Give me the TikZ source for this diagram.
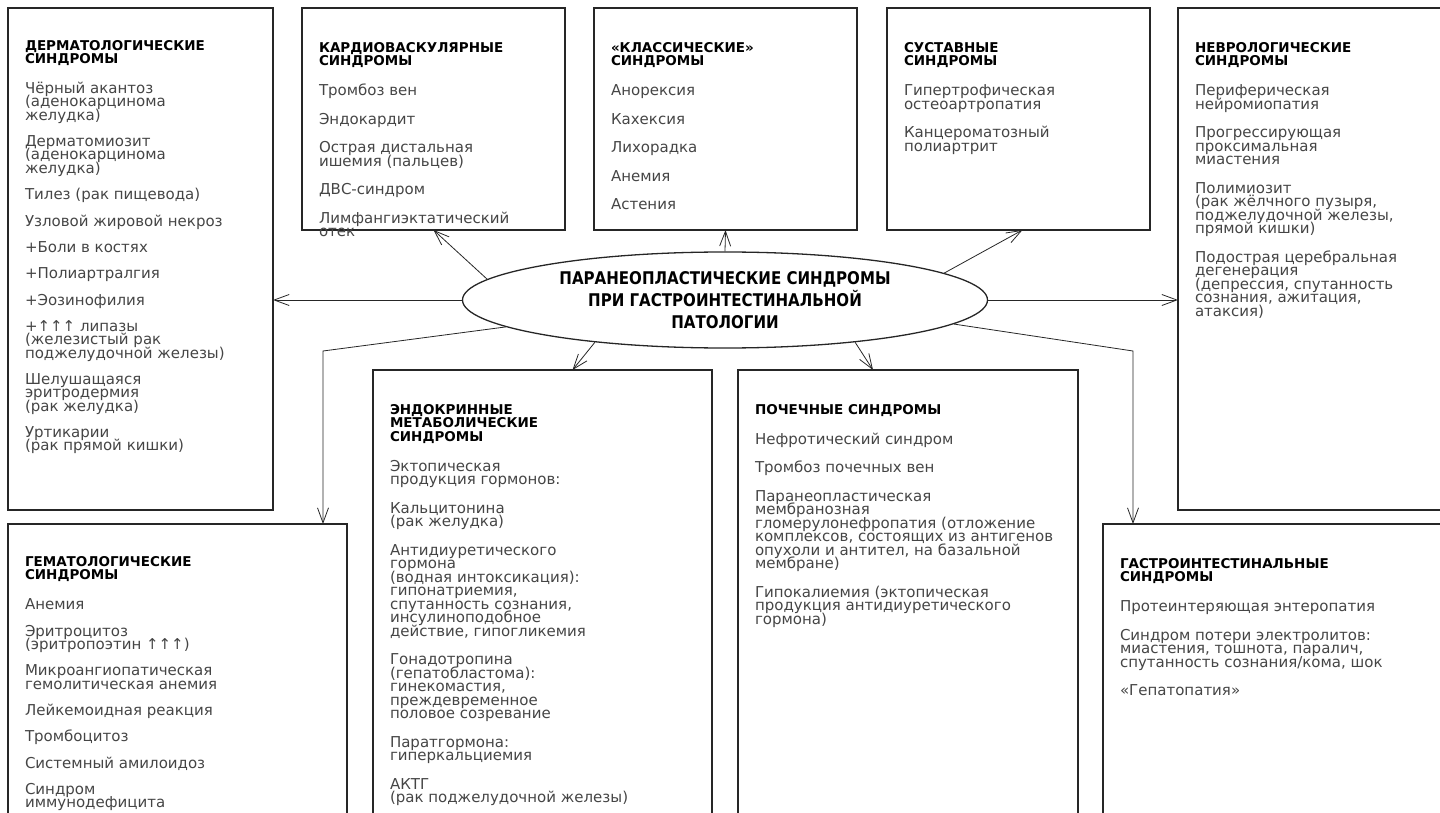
\documentclass[tikz,border=0pt]{standalone}
\usepackage{fontspec}
\setmainfont{DejaVu Sans}
\newfontfamily\titlefont{DejaVu Sans Bold}[FakeStretch=0.86]
\usetikzlibrary{arrows.meta,shapes.geometric}
\definecolor{ink}{gray}{0.15}
\definecolor{txt}{gray}{0.27}
\newcommand{\hd}[1]{{\color{black}\bfseries\fontsize{13.5}{13.5}\selectfont #1\par}\vspace{\dimexpr30pt-\parskip-\baselineskip\relax}}
\newcommand{\tight}{\fontsize{15}{13.3}\selectfont\setlength{\parskip}{13.1pt}}
\newcommand{\bx}[3]{\parbox[t][#1][t]{#2}{\raggedright\fontsize{15}{13.5}\selectfont\color{txt}%
  \lineskiplimit=-100pt\lineskip=0pt\setlength{\parskip}{15pt}#3}}
\tikzset{>={Straight Barb[length=15pt,width=11pt]},
  synbox/.style={draw=ink, line width=1.6pt, anchor=north west, inner xsep=17pt, inner ysep=19pt, outer sep=0pt},
  link/.style={->, draw=ink, line width=0.8pt}}

\begin{document}
\begin{tikzpicture}[x=1pt, y=-1pt]
    \useasboundingbox (0,0) rectangle (1440,813);
    \node[ellipse, draw=ink, line width=1.3pt, minimum width=525pt, minimum height=96pt, inner sep=0pt,
      align=center, font=\titlefont\fontsize{17.5}{22}\selectfont] (title) at (725,300)
      {ПАРАНЕОПЛАСТИЧЕСКИЕ СИНДРОМЫ\\ПРИ ГАСТРОИНТЕСТИНАЛЬНОЙ\\ПАТОЛОГИИ};

    \node[synbox] (derm) at (8,8) {\bx{464pt}{231pt}{\tight\hd{ДЕРМАТОЛОГИЧЕСКИЕ\\СИНДРОМЫ}
      Чёрный акантоз\\(аденокарцинома\\желудка)\par
      Дерматомиозит\\(аденокарцинома\\желудка)\par
      Тилез (рак пищевода)\par
      Узловой жировой некроз\par
      +Боли в костях\par
      +Полиартралгия\par
      +Эозинофилия\par
      +↑↑↑ липазы\\(железистый рак\\поджелудочной железы)\par
      Шелушащаяся\\эритродермия\\(рак желудка)\par
      Уртикарии\\(рак прямой кишки)}};
    \node[synbox] (cardio) at (302,8) {\bx{184pt}{229pt}{\hd{КАРДИОВАСКУЛЯРНЫЕ\\СИНДРОМЫ}
      Тромбоз вен\par
      Эндокардит\par
      Острая дистальная\\ишемия (пальцев)\par
      ДВС-синдром\par
      Лимфангиэктатический\\отек}};
    \node[synbox] (classic) at (594,8) {\bx{184pt}{229pt}{\hd{«КЛАССИЧЕСКИЕ»\\СИНДРОМЫ}
      Анорексия\par
      Кахексия\par
      Лихорадка\par
      Анемия\par
      Астения}};
    \node[synbox] (joint) at (887,8) {\bx{184pt}{229pt}{\hd{СУСТАВНЫЕ\\СИНДРОМЫ}
      Гипертрофическая\\остеоартропатия\par
      Канцероматозный\\полиартрит}};
    \node[synbox] (neuro) at (1178,8) {\bx{464pt}{246pt}{\hd{НЕВРОЛОГИЧЕСКИЕ\\СИНДРОМЫ}
      Периферическая\\нейромиопатия\par
      Прогрессирующая\\проксимальная\\миастения\par
      Полимиозит\\(рак жёлчного пузыря,\\поджелудочной железы,\\прямой кишки)\par
      Подострая церебральная\\дегенерация\\(депрессия, спутанность\\сознания, ажитация,\\атаксия)}};
    \node[synbox] (hemat) at (8,524) {\bx{282pt}{305pt}{\tight\hd{ГЕМАТОЛОГИЧЕСКИЕ\\СИНДРОМЫ}
      Анемия\par
      Эритроцитоз\\(эритропоэтин ↑↑↑)\par
      Микроангиопатическая\\гемолитическая анемия\par
      Лейкемоидная реакция\par
      Тромбоцитоз\par
      Системный амилоидоз\par
      Синдром\\иммунодефицита}};
    \node[synbox] (endo) at (373,370) {\bx{432pt}{305pt}{\hd{ЭНДОКРИННЫЕ\\МЕТАБОЛИЧЕСКИЕ\\СИНДРОМЫ}
      Эктопическая\\продукция гормонов:\par
      Кальцитонина\\(рак желудка)\par
      Антидиуретического\\гормона\\(водная интоксикация):\\гипонатриемия,\\спутанность сознания,\\инсулиноподобное\\действие, гипогликемия\par
      Гонадотропина\\(гепатобластома):\\гинекомастия,\\преждевременное\\половое созревание\par
      Паратгормона:\\гиперкальциемия\par
      АКТГ\\(рак поджелудочной железы)}};
    \node[synbox] (renal) at (738,370) {\bx{432pt}{306pt}{\hd{ПОЧЕЧНЫЕ СИНДРОМЫ}
      Нефротический синдром\par
      Тромбоз почечных вен\par
      Паранеопластическая\\мембранозная\\гломерулонефропатия (отложение\\комплексов, состоящих из антигенов\\опухоли и антител, на базальной\\мембране)\par
      Гипокалиемия (эктопическая\\продукция антидиуретического\\гормона)}};
    \node[synbox] (gi) at (1103,524) {\bx{282pt}{326pt}{\hd{ГАСТРОИНТЕСТИНАЛЬНЫЕ\\СИНДРОМЫ}
      Протеинтеряющая энтеропатия\par
      Синдром потери электролитов:\\миастения, тошнота, паралич,\\спутанность сознания/кома, шок\par
      «Гепатопатия»}};

    \coordinate (hbend) at (323,351);
    \coordinate (gbend) at (1133,351);
    \draw[link] (title.175) -- (cardio.south);
    \draw[link] (title.north) -- (classic.south);
    \draw[link] (title.7) -- ([xshift=4pt]joint.south);
    \draw[link] (title.west) -- (title.west -| derm.east);
    \draw[link] (title.east) -- (title.east -| neuro.west);
    \draw[link] (title.198) -- ([xshift=30pt]endo.north);
    \draw[link] (title.342) -- ([xshift=-35pt]renal.north);
    \draw[link] (title.187) -- (hbend) -- (hbend |- hemat.north);
    \draw[link] (title.354) -- (gbend) -- (gbend |- gi.north);
\end{tikzpicture}
\end{document}
